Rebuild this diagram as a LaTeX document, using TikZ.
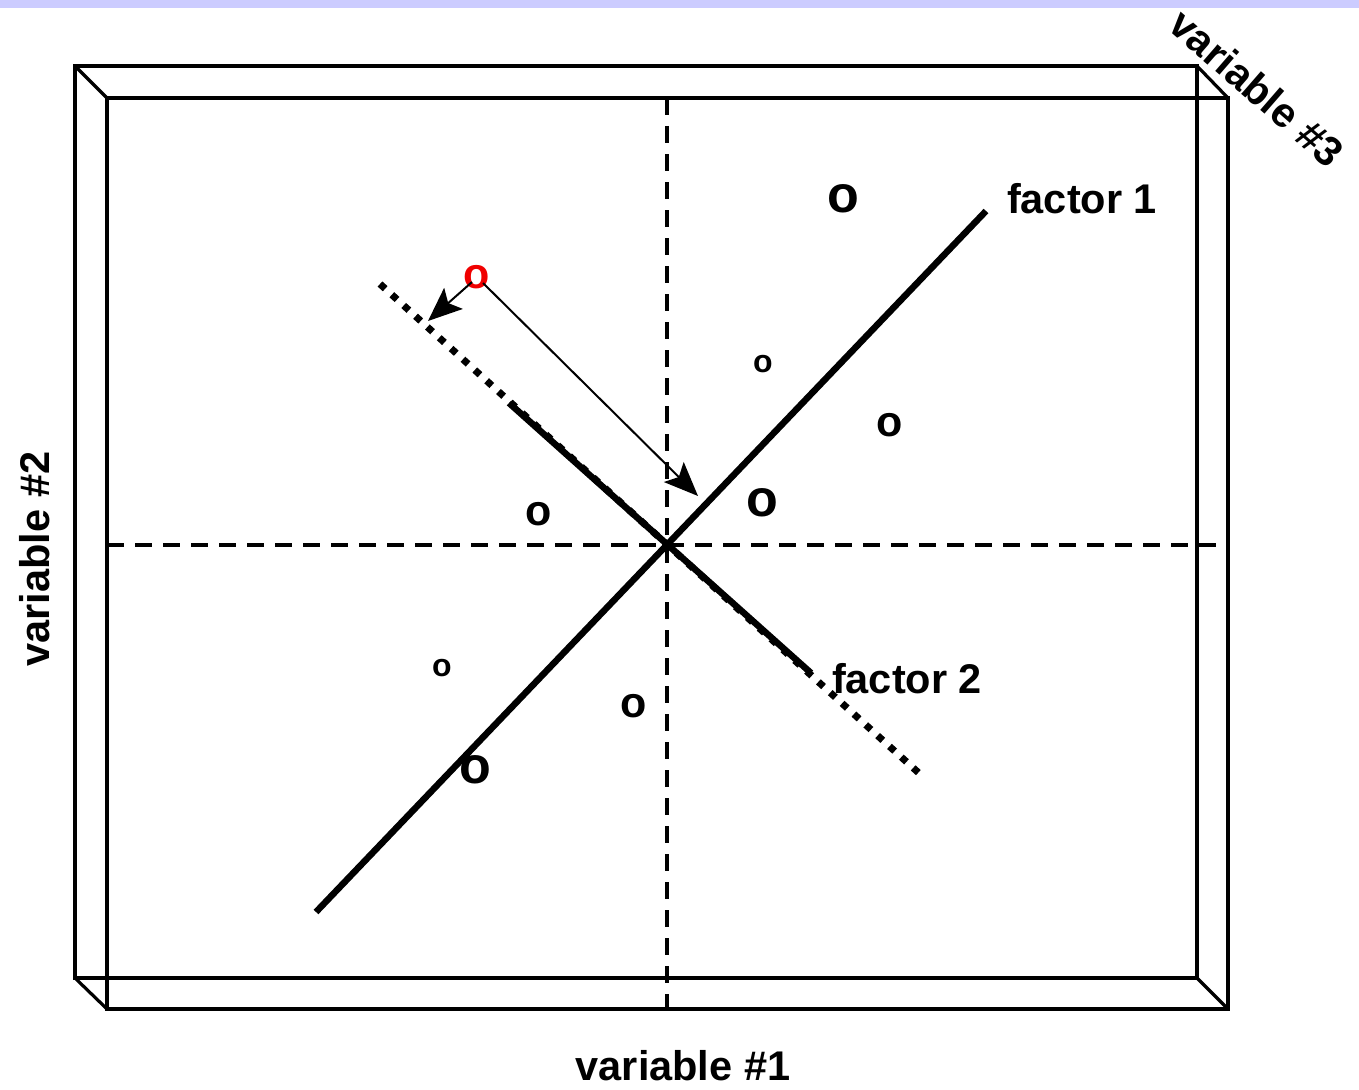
\documentclass[tikz,border=0pt]{standalone}
\usepackage{fontspec}
\setmainfont{Liberation Sans}
\usetikzlibrary{arrows.meta}
\definecolor{band}{RGB}{204,204,255}
\definecolor{redo}{RGB}{240,0,0}
\tikzset{
  boxline/.style={line width=3.2pt, line join=miter},
  axisline/.style={line width=3.6pt, dash pattern=on 17pt off 11pt},
  factorline/.style={line width=6.5pt},
  dotline/.style={line width=7pt, dash pattern=on 7pt off 9pt},
  projarrow/.style={line width=2pt, -{Stealth[length=34pt,width=28pt,inset=7pt]}},
  lbl/.style={font=\fontsize{41.5}{48}\selectfont\bfseries, inner sep=0pt},
  ptL/.style={font=\fontsize{52}{60}\selectfont\bfseries, inner sep=0pt},
  ptM/.style={font=\fontsize{43}{50}\selectfont\bfseries, inner sep=0pt},
  ptS/.style={font=\fontsize{32}{38}\selectfont\bfseries, inner sep=0pt},
}
\begin{document}
\begin{tikzpicture}[x=1pt,y=-1pt]
\useasboundingbox (0,0) rectangle (1359,1089);
\fill[band] (0,0) rectangle (1359,8);
% box
\draw[boxline] (75,66) rectangle (1197,978);
\draw[boxline] (107,98) rectangle (1228,1009);
\draw[boxline] (75,66) -- (107,98);
\draw[boxline] (1197,66) -- (1228,98);
\draw[boxline] (75,978) -- (107,1009);
\draw[boxline] (1197,978) -- (1228,1009);
% axes
\coordinate (c) at (667,545);
\coordinate (vt) at (667,98);
\coordinate (vb) at (667,1009);
\coordinate (hl) at (107,545);
\coordinate (hr) at (1218,545);
\draw[axisline] (vt) -- (vb);
\draw[axisline] (hl) -- (hr);
% factor 2
\coordinate (d1) at (380,284);
\coordinate (d2) at (921,775);
\draw[dotline] (d1) -- (d2);
\coordinate (f2a) at (509,403);
\coordinate (f2b) at (811,673);
\draw[factorline] (f2a) -- (f2b);
% factor 1
\coordinate (f1a) at (316,912);
\coordinate (f1b) at (986,211);
\draw[factorline] (f1a) -- (f1b);
% labels
\node[lbl] (fac1) at (1082,199) {factor 1};
\node[lbl] (fac2) at (907,679) {factor 2};
\node[lbl] (v1) at (683,1066) {variable \#1};
\node[lbl, rotate=90] (v2) at (35,559) {variable \#2};
\node[lbl, rotate=-41] (v3) at (1257,88) {variable \#3};
% points
\node[ptL] (p1) at (843,199) {o};
\node[ptS] (p2) at (763,364) {o};
\node[ptM] (p3) at (890,425) {o};
\node[ptL] (p4) at (762,503) {o};
\node[ptM] (p5) at (539,514) {o};
\node[ptS] (p6) at (442,668) {o};
\node[ptM] (p7) at (634,706) {o};
\node[ptL] (p8) at (475,770) {o};
\node[ptM, text=redo] (pr) at (477,277) {o};
% projections
\coordinate (t1) at (428,321);
\coordinate (t2) at (698,496);
\draw[projarrow] ([shift={(-5,5)}]pr.center) -- (t1);
\draw[projarrow] ([shift={(6,6)}]pr.center) -- (t2);
\end{tikzpicture}
\end{document}
